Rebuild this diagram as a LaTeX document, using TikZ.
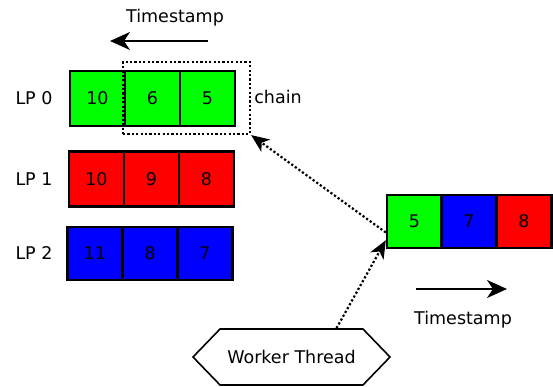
\documentclass[tikz,border=0pt]{standalone}
\usepackage{fontspec}
\setmainfont{DejaVu Sans}
\usetikzlibrary{arrows.meta,shapes.symbols}
\begin{document}
\begin{tikzpicture}[x=1pt,y=-1pt,
  txt/.style={font=\fontsize{17.5}{20}\selectfont},
  cell/.style={txt,draw=black,line width=2.4pt,minimum width=55pt,minimum height=55pt,inner sep=0pt},
  lbl/.style={txt,inner sep=0pt},
  dots/.style={line width=2.2pt,dash pattern=on 2.2pt off 2.2pt},
  tip/.style={-{Stealth[length=20pt,width=18pt,inset=6pt]}},
  dtip/.style={-{Stealth[length=18pt,width=15pt,inset=5pt]}}]
\useasboundingbox (0,0) rectangle (553,387);
\definecolor{cg}{RGB}{0,255,0}
\definecolor{cr}{RGB}{255,0,0}
\definecolor{cb}{RGB}{0,0,255}
% LP 0
\node[cell,fill=cg] (a1) at (97.5,98.5) {10};
\node[cell,fill=cg] (a2) at (152.5,98.5) {6};
\node[cell,fill=cg] (a3) at (207.5,98.5) {5};
% LP 1
\node[cell,fill=cr] (b1) at (96.5,179) {10};
\node[cell,fill=cr] (b2) at (151.5,179) {9};
\node[cell,fill=cr] (b3) at (206.5,179) {8};
% LP 2
\node[cell,fill=cb,minimum height=53pt] (c1) at (95,253.5) {11};
\node[cell,fill=cb,minimum height=53pt] (c2) at (150,253.5) {8};
\node[cell,fill=cb,minimum height=53pt] (c3) at (205,253.5) {7};
% right row
\node[cell,fill=cg,minimum height=53pt] (r1) at (414.5,221.5) {5};
\node[cell,fill=cb,minimum height=53pt] (r2) at (469,221.5) {7};
\node[cell,fill=cr,minimum height=53pt] (r3) at (524,221.5) {8};
% chain box
\node[dots,draw,minimum width=127pt,minimum height=72pt,inner sep=0pt] (chain) at (186.5,98) {};
% labels
\node[lbl] (l0) at (34,98) {LP 0};
\node[lbl] (l1) at (34,179) {LP 1};
\node[lbl] (l2) at (34,253) {LP 2};
\node[lbl] (ch) at (278,97) {chain};
\node[lbl] (ts1) at (175,18) {Timestamp};
\node[lbl] (ts2) at (463,320) {Timestamp};
% worker
\node[signal,signal to=west and east,signal pointer angle=92,draw,line width=1.6pt,txt,
  minimum width=197pt,minimum height=56pt,inner sep=0pt] (worker) at (291.5,357) {Worker Thread};
% timestamp arrows
\coordinate (t1s) at (208,41);
\coordinate (t1e) at (110,41);
\coordinate (t2s) at (416,289);
\coordinate (t2e) at (507,289);
\draw[line width=2pt,tip] (t1s) -- (t1e);
\draw[line width=2pt,tip] (t2s) -- (t2e);
% dotted connectors
\draw[dots,dtip] ([yshift=-11pt]r1.west) -- (chain.south east);
\draw[dots,dtip] ([xshift=45pt]worker.north) -- ([yshift=9pt]r1.south west);
\end{tikzpicture}
\end{document}
